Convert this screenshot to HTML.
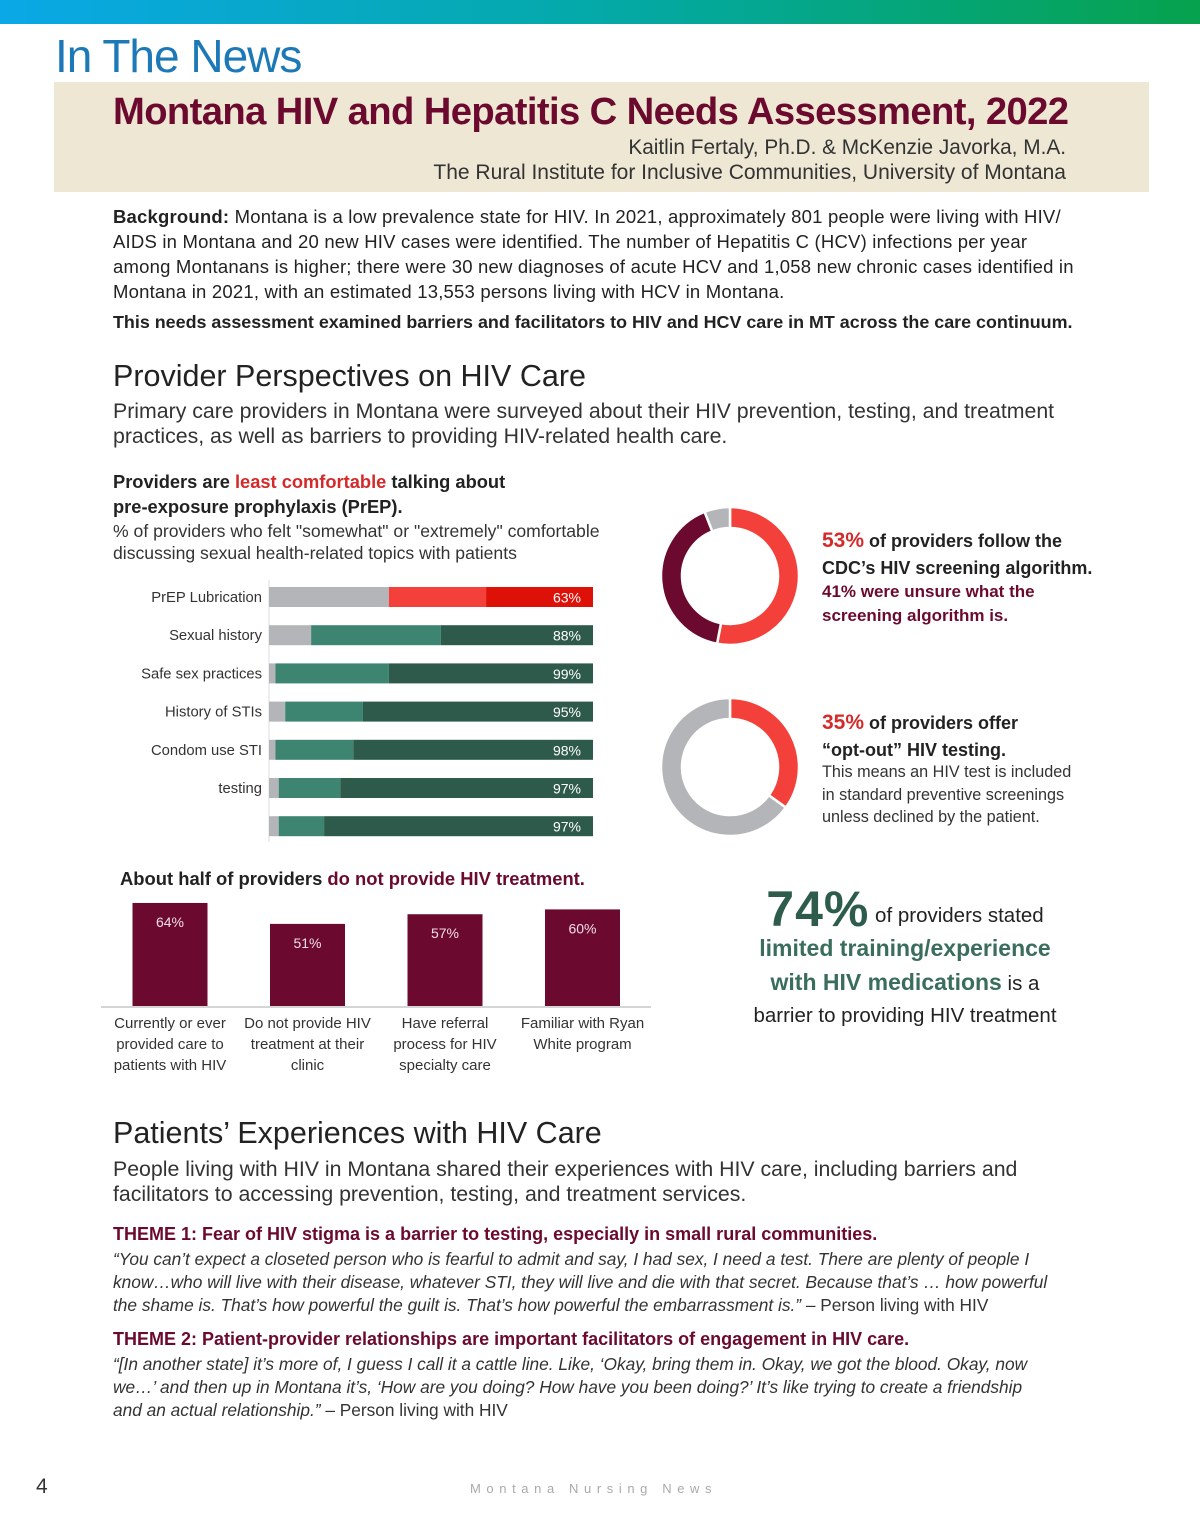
<!DOCTYPE html>
<html><head><meta charset="utf-8"><style>
body{margin:0;width:1200px;height:1540px;position:relative;background:#fff;font-family:"Liberation Sans",sans-serif;color:#222;overflow:hidden}
.a{position:absolute;white-space:nowrap}
.m{color:#6b0a2e}.r{color:#d42a2a}
.b{font-weight:bold}
.i{font-style:italic}
</style></head><body>
<div class="a" style="left:0;top:0;width:1200px;height:24px;background:linear-gradient(90deg,#0aa8e6,#04a9a8 50%,#06a24e)"></div>
<div class="a" style="left:55px;top:29px;font-size:46px;color:#1d78b8;letter-spacing:-1px">In The News</div>
<div class="a" style="left:54px;top:82px;width:1095px;height:110px;background:#ede7d4"></div>
<div class="a b m" style="left:113px;top:90px;font-size:38.2px;letter-spacing:-0.6px">Montana HIV and Hepatitis C Needs Assessment, 2022</div>
<div class="a" style="right:134px;top:136px;font-size:20.8px;color:#333">Kaitlin Fertaly, Ph.D. &amp; McKenzie Javorka, M.A.</div>
<div class="a" style="right:134px;top:161px;font-size:21px;color:#333">The Rural Institute for Inclusive Communities, University of Montana</div>

<div class="a" style="left:113px;top:204px;font-size:18.5px;letter-spacing:0.2px;line-height:25px">
<b>Background:</b> Montana is a low prevalence state for HIV. In 2021, approximately 801 people were living with HIV/<br>AIDS in Montana and 20 new HIV cases were identified. The number of Hepatitis C (HCV) infections per year<br>among Montanans is higher; there were 30 new diagnoses of acute HCV and 1,058 new chronic cases identified in<br>Montana in 2021, with an estimated 13,553 persons living with HCV in Montana.</div>
<div class="a b" style="left:113px;top:312px;font-size:17.9px">This needs assessment examined barriers and facilitators to HIV and HCV care in MT across the care continuum.</div>

<div class="a" style="left:113px;top:359px;font-size:30.5px;color:#222">Provider Perspectives on HIV Care</div>
<div class="a" style="left:113px;top:399px;font-size:21.3px;line-height:25px;color:#333">Primary care providers in Montana were surveyed about their HIV prevention, testing, and treatment<br>practices, as well as barriers to providing HIV-related health care.</div>

<div class="a b" style="left:113px;top:469px;font-size:18.3px;line-height:25px">Providers are <span class="r">least comfortable</span> talking about<br>pre-exposure prophylaxis (PrEP).</div>
<div class="a" style="left:113px;top:520px;font-size:17.6px;line-height:22px;color:#333">% of providers who felt "somewhat" or "extremely" comfortable<br>discussing sexual health-related topics with patients</div>

<svg id="hbar" class="a" style="left:0;top:0" width="650" height="860"></svg>

<svg id="donuts" class="a" style="left:0;top:0" width="820" height="860"></svg>
<div class="a b" style="left:822px;top:527px;font-size:18px;line-height:27px"><span class="r" style="font-size:21px">53%</span> of providers follow the<br>CDC’s HIV screening algorithm.</div>
<div class="a b m" style="left:822px;top:580px;font-size:17px;line-height:24px">41% were unsure what the<br>screening algorithm is.</div>
<div class="a b" style="left:822px;top:709px;font-size:18px;line-height:27px"><span class="r" style="font-size:21px">35%</span> of providers offer<br>“opt-out” HIV testing.</div>
<div class="a" style="left:822px;top:761px;font-size:16.2px;line-height:22.5px;color:#333">This means an HIV test is included<br>in standard preventive screenings<br>unless declined by the patient.</div>

<div class="a b" style="left:120px;top:868px;font-size:18.4px">About half of providers <span class="m">do not provide HIV treatment.</span></div>
<svg id="vbar" class="a" style="left:0;top:0" width="660" height="1090"></svg>

<div class="a" style="left:740px;top:893px;width:330px;text-align:center;font-size:20.5px;line-height:32px;color:#222">
<span class="b" style="font-size:50px;color:#2e5c4c;letter-spacing:1px;vertical-align:-4px">74%</span> of providers stated<br><b style="color:#3a6e5b;font-size:23px">limited training/experience<br>with HIV medications</b> is a<br>barrier to providing HIV treatment</div>

<div class="a" style="left:113px;top:1116px;font-size:30.5px;color:#222">Patients’ Experiences with HIV Care</div>
<div class="a" style="left:113px;top:1157px;font-size:21.3px;line-height:25px;color:#333">People living with HIV in Montana shared their experiences with HIV care, including barriers and<br>facilitators to accessing prevention, testing, and treatment services.</div>
<div class="a b m" style="left:113px;top:1224px;font-size:18px">THEME 1: Fear of HIV stigma is a barrier to testing, especially in small rural communities.</div>
<div class="a" style="left:113px;top:1248px;font-size:17.3px;line-height:23px;color:#333"><i>“You can’t expect a closeted person who is fearful to admit and say, I had sex, I need a test. There are plenty of people I<br>know…who will live with their disease, whatever STI, they will live and die with that secret. Because that’s … how powerful<br>the shame is. That’s how powerful the guilt is. That’s how powerful the embarrassment is.”</i> – Person living with HIV</div>
<div class="a b m" style="left:113px;top:1329px;font-size:18px">THEME 2: Patient-provider relationships are important facilitators of engagement in HIV care.</div>
<div class="a" style="left:113px;top:1353px;font-size:17.3px;line-height:23px;color:#333"><i>“[In another state] it’s more of, I guess I call it a cattle line. Like, ‘Okay, bring them in. Okay, we got the blood. Okay, now<br>we…’ and then up in Montana it’s, ‘How are you doing? How have you been doing?’ It’s like trying to create a friendship<br>and an actual relationship.”</i> – Person living with HIV</div>

<div class="a" style="left:36px;top:1475px;font-size:21px;color:#333">4</div>
<div class="a" style="left:470px;top:1481px;font-size:13px;letter-spacing:5.6px;color:#aaa">Montana Nursing News</div>

<script>
const NS="http://www.w3.org/2000/svg";
function mk(p,t,at){const e=document.createElementNS(NS,t);for(const k in at)e.setAttribute(k,at[k]);p.appendChild(e);return e;}
// horizontal stacked bars
const topics=["PrEP Lubrication","Sexual history","Safe sex practices","History of STIs","Condom use STI","testing",""];
const uncomfortable=[37,13,2,5,2,3,3];
const somewhat=[30,40,35,24,24,19,14];
const extremely=[33,47,63,71,74,78,83];
const totals=["63%","88%","99%","95%","98%","97%","97%"];
const hb=document.getElementById('hbar');
const x0=269,xw=324,rowY0=597,rowStep=38.2,bh=20;
const xs=v=>v/100*xw;
mk(hb,'line',{x1:x0,x2:x0,y1:580,y2:842,stroke:'#ddd','stroke-width':1});
topics.forEach((t,i)=>{
  const cy=rowY0+i*rowStep;
  const tot=uncomfortable[i]+somewhat[i]+extremely[i];
  const segs=[uncomfortable[i],somewhat[i],extremely[i]];
  const cols=i===0?['#b3b5b8','#f4403a','#dd1108']:['#b3b5b8','#3d8570','#2e5a4c'];
  const names=['uncomfortable','somewhat','extremely'];
  let x=x0;
  segs.forEach((v,j)=>{const w=xs(v/tot*100);
    const r=mk(hb,'rect',{x:x,y:cy-bh/2,width:w,height:bh,fill:cols[j]});
    
    
    x+=w;});
  const lab=mk(hb,'text',{x:x0-7,y:cy+5,'text-anchor':'end','font-size':14.8,fill:'#333'});lab.textContent=t;
  
  
  const vl=mk(hb,'text',{x:x0+xw-12,y:cy+5.5,'text-anchor':'end','font-size':14,fill:'#fff'});vl.textContent=totals[i];
  
  
});
// donuts
const donut1=[53,41,6];const donut1Colors=['#f4403a','#6b0a2e','#b3b5b8'];
const donut2=[35,65];const donut2Colors=['#f4403a','#b3b5b8'];
const dn=document.getElementById('donuts');
function donut(vals,cols,cx,cy,R,r,name){
  let a=0;const sum=vals.reduce((s,v)=>s+v,0);
  vals.forEach((v,i)=>{
    const a1=a,a2=a+v/sum*2*Math.PI;a=a2;
    const p=(ang,rad)=>[cx+rad*Math.sin(ang),cy-rad*Math.cos(ang)];
    const lg=(a2-a1)>Math.PI?1:0;
    const [x1,y1]=p(a1,R),[x2,y2]=p(a2,R),[x3,y3]=p(a2,r),[x4,y4]=p(a1,r);
    const e=mk(dn,'path',{d:`M${x1} ${y1}A${R} ${R} 0 ${lg} 1 ${x2} ${y2}L${x3} ${y3}A${r} ${r} 0 ${lg} 0 ${x4} ${y4}Z`,fill:cols[i],stroke:'#fff','stroke-width':2.5});
    
    
  });
}
donut(donut1,donut1Colors,730,576,69,48,'donut-algorithm');
donut(donut2,donut2Colors,730,767,69,48,'donut-optout');
// column chart
const colCats=[["Currently or ever","provided  care  to","patients with HIV"],["Do not provide HIV","treatment at their","clinic"],["Have referral","process for HIV","specialty care"],["Familiar with Ryan","White program"]];
const colVals=[64,51,57,60];
const vb=document.getElementById('vbar');
const base=1006,ppu=1.61,cw=75,c0=170,cstep=137.5;
mk(vb,'line',{x1:101,x2:651,y1:base+1,y2:base+1,stroke:'#d5d5d5','stroke-width':2});
colVals.forEach((v,i)=>{
  const cx=c0+i*cstep,h=v*ppu;
  const r=mk(vb,'rect',{x:cx-cw/2,y:base-h,width:cw,height:h,fill:'#6b0a2e'});
  
  
  const t=mk(vb,'text',{x:cx,y:base-h+24,'text-anchor':'middle','font-size':14,fill:'#f3dde6'});t.textContent=v+'%';
  
  
  colCats[i].forEach((ln,k)=>{const c=mk(vb,'text',{x:cx,y:base+22+k*21,'text-anchor':'middle','font-size':15,fill:'#333','xml:space':'preserve'});c.textContent=ln;
    
    });
});
</script>
</body></html>
